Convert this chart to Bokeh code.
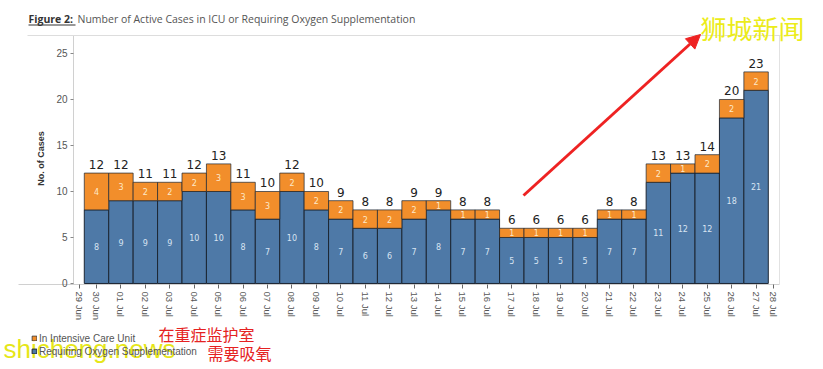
import math
import pandas as pd
from bokeh.plotting import figure
from bokeh.models import (ColumnDataSource, Range1d, FixedTicker, Label, LabelSet,
                          Legend, LegendItem, BoxAnnotation, Arrow, NormalHead)
from bokeh.core.properties import value
from bokeh.embed import file_html
from bokeh.resources import INLINE

# ---------------- data ----------------
tick_labels = ["29 Jun", "30 Jun", "01 Jul", "02 Jul", "03 Jul", "04 Jul", "05 Jul",
               "06 Jul", "07 Jul", "08 Jul", "09 Jul", "10 Jul", "11 Jul", "12 Jul",
               "13 Jul", "14 Jul", "15 Jul", "16 Jul", "17 Jul", "18 Jul", "19 Jul",
               "20 Jul", "21 Jul", "22 Jul", "23 Jul", "24 Jul", "25 Jul", "26 Jul",
               "27 Jul", "28 Jul"]
dates = tick_labels[1:-1]
oxygen = [8, 9, 9, 9, 10, 10, 8, 7, 10, 8, 7, 6, 6, 7, 8, 7, 7, 5, 5, 5, 5, 7, 7,
          11, 12, 12, 18, 21]
icu = [4, 3, 2, 2, 2, 3, 3, 3, 2, 2, 2, 2, 2, 2, 1, 1, 1, 1, 1, 1, 1, 1, 1,
       2, 1, 2, 2, 2]
y_ticks = [0, 5, 10, 15, 20, 25]
series_names = ["In Intensive Care Unit", "Requiring Oxygen Supplementation"]

BLUE = "#4e79a7"
ORANGE = "#f28e2b"

df = pd.DataFrame({"x": list(range(len(dates))), "date": dates,
                   "oxy": oxygen, "icu": icu})
df["total"] = df["oxy"] + df["icu"]
df["oxy_mid"] = df["oxy"] / 2
df["icu_mid"] = df["oxy"] + df["icu"] / 2
df["oxy_txt"] = df["oxy"].astype(str)
df["icu_txt"] = df["icu"].astype(str)
df["tot_txt"] = df["total"].astype(str)
src = ColumnDataSource(df)

n = len(dates)
tick_pos = [-0.7] + list(range(n)) + [n - 1 + 0.72]
overrides = {t: lab for t, lab in zip(tick_pos, tick_labels)}

# plot-area extent (data units) and full canvas ranges
PX0, PX1 = -0.94, n - 1 + 0.96
PY0, PY1 = -0.11, 26.96

W, H = 823, 369
p = figure(width=W, height=H, output_backend="svg", toolbar_location=None,
           x_range=Range1d(-3.93, 29.76), y_range=Range1d(-9.35, 30.76),
           min_border=0, min_border_left=0, min_border_right=0,
           min_border_top=0, min_border_bottom=0)
p.background_fill_color = "white"
p.border_fill_color = "white"
p.outline_line_color = None
p.xgrid.grid_line_color = None
p.ygrid.grid_line_color = None

rs = p.vbar_stack(["oxy", "icu"], x="x", width=1.0, source=src,
                  fill_color=[BLUE, ORANGE], line_color="#1c2633", line_width=1)
rs[1].glyph.line_alpha = 0.7

# axes (placed at the plot-area edges)
p.xaxis.fixed_location = PY0
p.xaxis.bounds = (-3.2, PX1)
p.xaxis.ticker = FixedTicker(ticks=tick_pos)
p.xaxis.major_label_overrides = overrides
p.xaxis.major_label_orientation = "vertical"
p.xaxis.major_label_text_font = "Liberation Sans"
p.xaxis.major_label_text_font_size = "9.5px"
p.xaxis.major_label_text_color = "#555555"
p.xaxis.axis_line_color = "#d0d0d0"
p.xaxis.major_tick_line_color = "#666666"
p.xaxis.major_tick_in = 0
p.xaxis.major_tick_out = 4
p.xaxis.minor_tick_line_color = None
p.xaxis.major_label_standoff = 3

p.yaxis.fixed_location = PX0
p.yaxis.bounds = (PY0, PY1)
p.yaxis.ticker = FixedTicker(ticks=y_ticks)
p.yaxis.major_label_text_font = "Liberation Sans"
p.yaxis.major_label_text_font_size = "10px"
p.yaxis.major_label_text_color = "#555555"
p.yaxis.axis_line_color = "#d0d0d0"
p.yaxis.major_tick_line_color = "#888888"
p.yaxis.major_tick_in = 0
p.yaxis.major_tick_out = 3
p.yaxis.minor_tick_line_color = None
p.yaxis.major_label_standoff = 3

# frame lines (top separator, right edge)
p.add_layout(BoxAnnotation(left=27, right=780, top=H - 34.5, bottom=H - 35.5,
                           left_units="screen", right_units="screen",
                           top_units="screen", bottom_units="screen",
                           fill_color="#dddddd", fill_alpha=1, line_color=None))
p.add_layout(BoxAnnotation(left=778.5, right=779.5, top=H - 35, bottom=H - 284,
                           left_units="screen", right_units="screen",
                           top_units="screen", bottom_units="screen",
                           fill_color="#e2e2e2", fill_alpha=1, line_color=None))

# value labels
p.add_layout(LabelSet(x="x", y="oxy_mid", text="oxy_txt", source=src,
                      text_align="center", text_baseline="middle",
                      text_font=value("DejaVu Sans"), text_font_size="8px",
                      text_color="#d8e4f2"))
p.add_layout(LabelSet(x="x", y="icu_mid", text="icu_txt", source=src,
                      text_align="center", text_baseline="middle",
                      text_font=value("DejaVu Sans"), text_font_size="8px",
                      text_color="#fde9c9"))
p.add_layout(LabelSet(x="x", y="total", text="tot_txt", source=src,
                      text_align="center", text_baseline="bottom", y_offset=4,
                      text_font=value("DejaVu Sans"), text_font_size="12px",
                      text_color="#222222"))

# title
p.add_layout(Label(x=28, y=H - 18, x_units="screen", y_units="screen", text="Figure 2:",
                   text_font="Open Sans", text_font_size="10.5px", text_font_style="bold",
                   text_color="#333333", text_baseline="middle"))
p.add_layout(Label(x=77, y=H - 18, x_units="screen", y_units="screen",
                   text="Number of Active Cases in ICU or Requiring Oxygen Supplementation",
                   text_font="Open Sans", text_font_size="10.5px",
                   text_color="#555555", text_baseline="middle"))
p.add_layout(BoxAnnotation(left=28, right=75, top=H - 24, bottom=H - 25,
                           left_units="screen", right_units="screen",
                           top_units="screen", bottom_units="screen",
                           fill_color="#333333", fill_alpha=1, line_color=None))

# y-axis title
p.add_layout(Label(x=40, y=H - 158, x_units="screen", y_units="screen", text="No. of Cases",
                   angle=math.pi / 2, text_align="center", text_baseline="middle",
                   text_font="Liberation Sans", text_font_size="9px",
                   text_font_style="bold", text_color="#333333"))

# legend
legend = Legend(items=[LegendItem(label=series_names[0], renderers=[rs[1]]),
                       LegendItem(label=series_names[1], renderers=[rs[0]])],
                location=(31, 12), orientation="vertical",
                glyph_width=6, glyph_height=6, label_standoff=2, spacing=1,
                padding=0, margin=0, label_height=12,
                label_text_font="Liberation Sans", label_text_font_size="10px",
                label_text_color="#555555", border_line_color=None,
                background_fill_alpha=0)
p.add_layout(legend)

# red annotations
p.add_layout(Label(x=158, y=H - 333, x_units="screen", y_units="screen", text="在重症监护室",
                   text_font="Noto Sans CJK SC", text_font_size="16px",
                   text_color="#e52222", text_baseline="middle"))
p.add_layout(Label(x=207, y=H - 352, x_units="screen", y_units="screen", text="需要吸氧",
                   text_font="Noto Sans CJK SC", text_font_size="16px",
                   text_color="#e52222", text_baseline="middle"))
p.add_layout(Arrow(x_start=523, y_start=H - 195, x_end=700, y_end=H - 34,
                   start_units="screen", end_units="screen",
                   line_color="#ee2222", line_width=3,
                   end=NormalHead(size=14, fill_color="#ee2222", line_color="#ee2222")))

# watermarks
p.add_layout(Label(x=3, y=H - 348, x_units="screen", y_units="screen", text="shicheng.news",
                   text_font="Liberation Sans", text_font_size="26px",
                   text_color="#e6e619", text_baseline="middle"))
p.add_layout(Label(x=700, y=H - 27, x_units="screen", y_units="screen", text="狮城新闻",
                   text_font="Noto Sans CJK SC", text_font_size="26px",
                   text_color="#ecec1a", text_baseline="middle"))

open("out.html", "w").write(file_html(p, INLINE))
